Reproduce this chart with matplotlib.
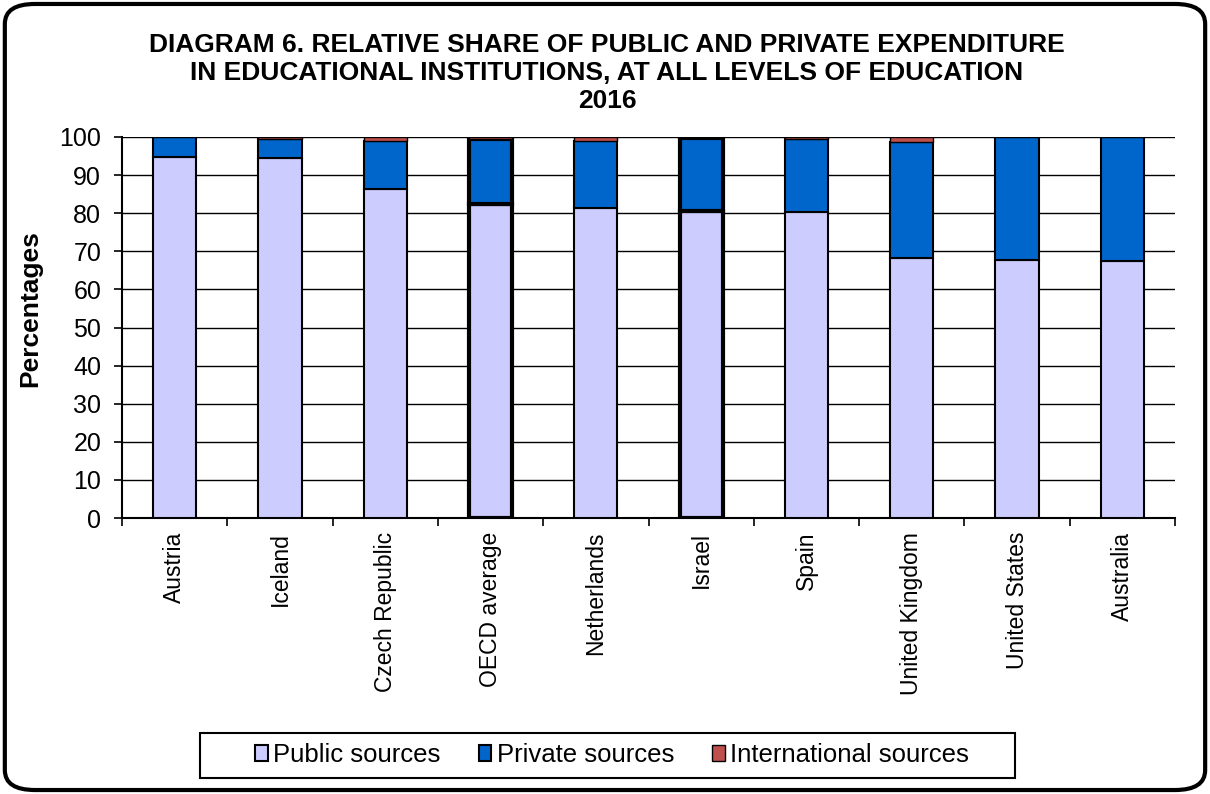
import numpy as np
import matplotlib.pyplot as plt
from matplotlib.patches import FancyBboxPatch, Rectangle

plt.rcParams['font.family'] = ['Liberation Sans', 'DejaVu Sans']

# Data
countries = ["Austria", "Iceland", "Czech Republic", "OECD average", "Netherlands",
             "Israel", "Spain", "United Kingdom", "United States", "Australia"]
public = [94.7, 94.4, 86.3, 82.3, 81.4, 80.6, 80.2, 68.3, 67.8, 67.4]
international = [0.0, 0.5, 1.0, 0.5, 1.0, 0.3, 0.4, 1.2, 0.0, 0.0]
private = [100 - p - i for p, i in zip(public, international)]
highlight = ["OECD average", "Israel"]

fig = plt.figure(figsize=(12.1, 7.94), dpi=100)
ax = fig.add_axes([122 / 1210, 1 - 518 / 794, (1175 - 122) / 1210, (518 - 137) / 794])

x = np.arange(len(countries))
w = 0.41
lws = [3.0 if c in highlight else 1.5 for c in countries]
ax.bar(x, public, w, color='#ccccff', edgecolor='black', linewidth=lws, label='Public sources', zorder=3)
ax.bar(x, private, w, bottom=public, color='#0066cc', edgecolor='black', linewidth=lws,
       label='Private sources', zorder=3)
ax.bar(x, international, w, bottom=np.array(public) + np.array(private), color='#c0504d',
       edgecolor='black', linewidth=1.0, label='International sources', zorder=3)

ax.set_xlim(-0.5, len(countries) - 0.5)
ax.set_ylim(0, 100)
ax.set_yticks(range(0, 101, 10))
ax.yaxis.grid(True, color='black', linewidth=1.0, zorder=0)
ax.tick_params(axis='y', labelsize=18, length=6, width=1.2, direction='out', pad=9)
ax.set_ylabel('Percentages', fontsize=19, fontweight='bold')
ax.yaxis.set_label_coords(-0.076, 0.549)

ax.set_xticks(x)
ax.set_xticklabels(countries, rotation=90, fontsize=16.5)
ax.tick_params(axis='x', length=0, pad=10)
ax.set_xticks(np.arange(-0.5, len(countries), 1), minor=True)
ax.tick_params(axis='x', which='minor', length=6, width=1.2)

for s in ['top', 'right']:
    ax.spines[s].set_visible(False)
ax.spines['left'].set_linewidth(1.5)
ax.spines['bottom'].set_linewidth(1.5)

title_lines = ['DIAGRAM 6. RELATIVE SHARE OF PUBLIC AND PRIVATE EXPENDITURE',
               'IN EDUCATIONAL INSTITUTIONS, AT ALL LEVELS OF EDUCATION',
               '2016']
for line, ypix in zip(title_lines, [45, 73, 101]):
    fig.text(607 / 1210, 1 - ypix / 794, line, ha='center', va='center', fontsize=19, fontweight='bold')

# legend without its own frame, box drawn separately
leg = fig.legend(loc='center', bbox_to_anchor=(612 / 1210, 1 - 755 / 794), ncol=3, fontsize=18.5,
                 frameon=False, handlelength=0.5, handleheight=0.6, handletextpad=0.2,
                 columnspacing=1.5)
box = Rectangle((200 / 1210, 1 - 778 / 794), 815 / 1210, 45 / 794, transform=fig.transFigure,
                fill=False, edgecolor='black', linewidth=1.5)
fig.patches.append(box)

border = FancyBboxPatch((0.004, 0.005), 0.992, 0.99, boxstyle='round,pad=0,rounding_size=0.025',
                        transform=fig.transFigure, fill=False, edgecolor='black', linewidth=3)
fig.patches.append(border)

fig.savefig('out.png', dpi=100)
